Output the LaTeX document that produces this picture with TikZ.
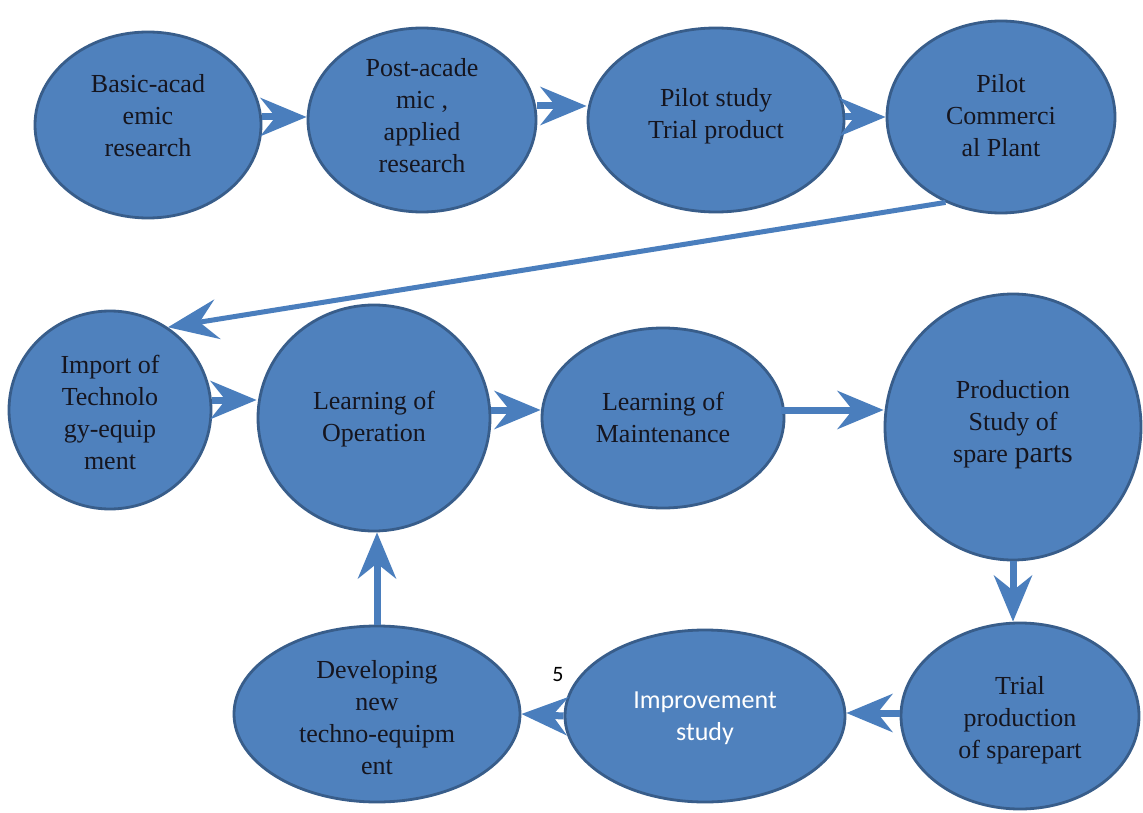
\documentclass[tikz,border=0pt]{standalone}
\usepackage{fontspec}
\setmainfont{Liberation Serif}
\newfontfamily\calib{Carlito}
\usetikzlibrary{shapes.geometric,arrows.meta}
\definecolor{efill}{HTML}{4F81BD}
\definecolor{eborder}{HTML}{385D8A}
\definecolor{arr}{HTML}{4A7EBD}
\definecolor{txt}{HTML}{15151F}
\tikzset{
  bub/.style={ellipse, draw=eborder, line width=2.8pt, fill=efill, inner sep=0pt},
  lbl/.style={align=center, inner sep=0pt, text=txt, font=\fontsize{26}{32}\selectfont},
  wlbl/.style={align=center, inner sep=0pt, text=white, font=\calib\fontsize{26}{32}\selectfont},
  flow/.style={draw=arr, line width=7pt, -{Stealth[length=46pt,width=38pt,inset=15pt]}, shorten >=0pt},
  longflow/.style={draw=arr, line width=5pt, -{Stealth[length=50pt,width=40pt,inset=18pt]}}
}
\begin{document}
\begin{tikzpicture}[x=1pt,y=-1pt]
\useasboundingbox (0,0) rectangle (1143,813);
\fill[white] (0,0) rectangle (1143,813);
% row 1
\node[bub, minimum width=226pt, minimum height=186pt] (n1) at (148,125) {};
\node[lbl] (t1) at (148,116) {Basic-acad\\emic\\research};
\node[bub, minimum width=228pt, minimum height=184pt] (n2) at (422,120) {};
\node[lbl] (t2) at (422,116) {Post-acade\\mic ,\\applied\\research};
\node[bub, minimum width=256pt, minimum height=184pt] (n3) at (716,120) {};
\node[lbl] (t3) at (716,116) {Pilot study\\Trial product};
\node[bub, minimum width=228pt, minimum height=192pt] (n4) at (1001,117) {};
\node[lbl] (t4) at (1001,116) {Pilot\\Commerci\\al Plant};
% row 2
\node[bub, minimum width=202pt, minimum height=198pt] (n5) at (110,410) {};
\node[lbl] (t5) at (110,412) {Import of\\Technolo\\gy-equip\\ment};
\node[bub, minimum width=232pt, minimum height=226pt] (n6) at (374,418) {};
\node[lbl] (t6) at (374,419) {Learning of\\Operation};
\node[bub, minimum width=242pt, minimum height=180pt] (n7) at (663,418) {};
\node[lbl] (t7) at (663,417) {Learning of\\Maintenance};
\node[bub, minimum width=256pt, minimum height=266pt] (n8) at (1013,427) {};
\node[lbl] (t8) at (1013,425) {Production\\Study of\\spare {\fontsize{30}{32}\selectfont parts}};
% row 3
\node[bub, minimum width=238pt, minimum height=186pt] (n9) at (1020,716) {};
\node[lbl] (t9) at (1020,720) {Trial\\production\\of sparepart};
\node[bub, minimum width=280pt, minimum height=172pt] (n10) at (705,716) {};
\node[wlbl] (t10) at (705,718) {Improvement\\study};
\node[bub, minimum width=286pt, minimum height=176pt] (n11) at (377,714) {};
\node[lbl] (t11) at (377,718) {Developing\\new\\techno-equipm\\ent};
\node[font=\calib\fontsize{22}{26}\selectfont, text=black] (lab5) at (558,675) {5};
% connectors
\draw[flow] (n1.east |- 0,117) -- (n2.west |- 0,117);
\draw[flow] (n2.east |- 0,106) -- (n3.west |- 0,106);
\draw[flow] (n3.east |- 0,117) -- (n4.west |- 0,117);
\draw[longflow] (n4.237) -- (n5.55);
\draw[flow] (n5.east |- 0,400) -- (n6.west |- 0,400);
\draw[flow] (n6.east |- 0,410) -- (n7.west |- 0,410);
\draw[flow] ([xshift=-4pt]n7.east |- 0,410) -- (n8.west |- 0,410);
\draw[flow] (n8.south) -- (n8.south |- n9.north);
\draw[flow] (n9.west |- 0,713) -- (n10.east |- 0,713);
\draw[flow] (n10.west) -- (n11.east);
\draw[flow] (n11.north) -- (n11.north |- n6.south);
\end{tikzpicture}
\end{document}
